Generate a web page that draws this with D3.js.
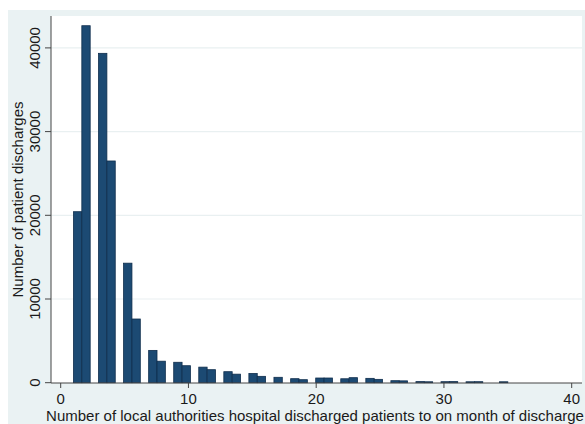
<!DOCTYPE html>
<html>
<head>
<meta charset="utf-8">
<script src="https://cdn.jsdelivr.net/npm/d3@7/dist/d3.min.js"></script>
<style>
  html, body { margin: 0; padding: 0; background: #ffffff; }
  svg { display: block; }
  text { font-family: "Liberation Sans", Arial, Helvetica, sans-serif; fill: #1a1a1a; }
</style>
</head>
<body>
<svg id="chart" width="585" height="424"></svg>
<script>
// Number of local authorities a hospital discharged patients to (1..35)
const authorities = d3.range(1, 36);
// Number of patient discharges for each value above
const discharges = [
  20430, 42650, 39350, 26490, 14280, 7610, 3860, 2570, 2440, 2030,
  1860, 1555, 1315, 1020, 1100, 760, 645, 480, 360, 560,
  560, 470, 600, 520, 400, 240, 220, 130, 110, 120,
  130, 110, 120, 0, 110
];
const xTicks = [0, 10, 20, 30, 40];
const yTicks = [0, 10000, 20000, 30000, 40000];
const xTitle = "Number of local authorities hospital discharged patients to on month of discharge";
const yTitle = "Number of patient discharges";

// Histogram binning: 52 equal bins spanning min..max
const nBins = 52;
const lo = d3.min(authorities), hi = d3.max(authorities);
const binWidth = (hi - lo) / nBins;
const counts = new Array(nBins).fill(0);
authorities.forEach((k, i) => {
  const b = Math.min(nBins - 1, Math.floor(((k - lo) * nBins) / (hi - lo)));
  counts[b] += discharges[i];
});
const bins = counts.map((c, i) => ({ x0: lo + i * binWidth, x1: lo + (i + 1) * binWidth, count: c }));

const svg = d3.select("#chart");
const W = 585, H = 424;
const plot = { left: 51, right: 582, top: 16, bottom: 383 };

// Outer graph region and white plot region
svg.append("rect").attr("x", 8).attr("y", 10).attr("width", W - 8).attr("height", H - 10).attr("fill", "#eaf2f3");
svg.append("rect").attr("x", plot.left).attr("y", plot.top)
  .attr("width", plot.right - plot.left).attr("height", plot.bottom - plot.top).attr("fill", "#ffffff");

const x = d3.scaleLinear().domain([0, 40]).range([60.7, 571.7]);
const y = d3.scaleLinear().domain([0, 40000]).range([382.7, 47.9]);

// Horizontal gridlines
svg.append("g").selectAll("line").data(yTicks.filter(t => t > 0)).join("line")
  .attr("x1", plot.left).attr("x2", plot.right)
  .attr("y1", d => y(d)).attr("y2", d => y(d))
  .attr("stroke", "#e9f0f1").attr("stroke-width", 1.2);

// Bars
svg.append("g").selectAll("rect").data(bins.filter(b => b.count > 0)).join("rect")
  .attr("x", d => x(d.x0))
  .attr("width", d => x(d.x1) - x(d.x0))
  .attr("y", d => y(d.count))
  .attr("height", d => y(0) - y(d.count))
  .attr("fill", "#1c4a73")
  .attr("stroke", "#0f2d4c")
  .attr("stroke-width", 0.8);

// X axis
const xAxis = svg.append("g").attr("transform", `translate(0,${plot.bottom})`);
xAxis.append("line").attr("x1", plot.left).attr("x2", plot.right).attr("y1", 0).attr("y2", 0)
  .attr("stroke", "#444").attr("stroke-width", 1);
xAxis.selectAll("line.tick").data(xTicks).join("line").attr("class", "tick")
  .attr("x1", d => x(d)).attr("x2", d => x(d)).attr("y1", 0).attr("y2", 5)
  .attr("stroke", "#444").attr("stroke-width", 1);
xAxis.selectAll("text").data(xTicks).join("text")
  .attr("x", d => x(d)).attr("y", 21).attr("text-anchor", "middle")
  .attr("font-size", 15).text(d => d3.format("d")(d));

// Y axis
const yAxis = svg.append("g").attr("transform", `translate(${plot.left},0)`);
yAxis.append("line").attr("x1", 0).attr("x2", 0).attr("y1", plot.top).attr("y2", plot.bottom)
  .attr("stroke", "#444").attr("stroke-width", 1);
yAxis.selectAll("line.tick").data(yTicks).join("line").attr("class", "tick")
  .attr("x1", -6).attr("x2", 0).attr("y1", d => y(d)).attr("y2", d => y(d))
  .attr("stroke", "#444").attr("stroke-width", 1);
yAxis.selectAll("text").data(yTicks).join("text")
  .attr("transform", d => `translate(-11.5,${y(d)}) rotate(-90)`)
  .attr("text-anchor", "middle").attr("font-size", 15)
  .text(d => d3.format("d")(d));

// Axis titles
svg.append("text").attr("x", 315).attr("y", 420.6).attr("text-anchor", "middle")
  .attr("font-size", 15).text(xTitle);
svg.append("text").attr("transform", `translate(23.3,${(plot.top + plot.bottom) / 2}) rotate(-90)`)
  .attr("text-anchor", "middle").attr("font-size", 15).text(yTitle);
</script>
</body>
</html>
